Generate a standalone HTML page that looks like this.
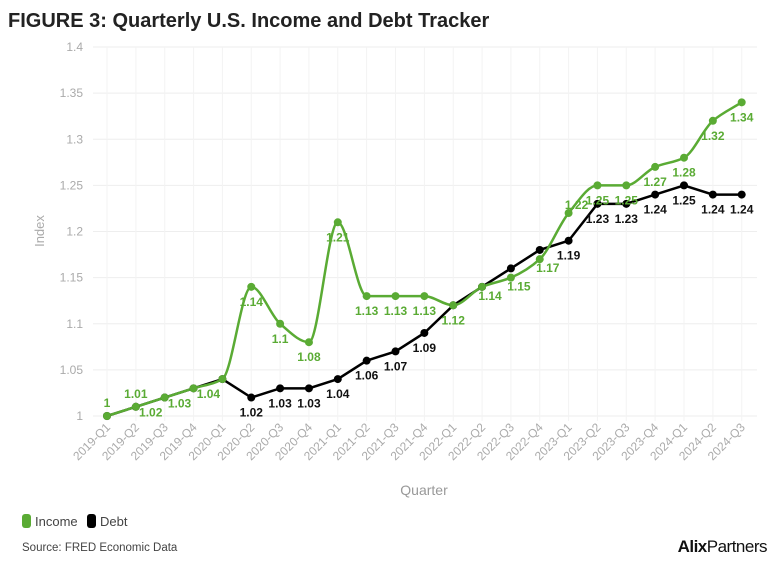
<!DOCTYPE html>
<html><head><meta charset="utf-8"><style>
body{margin:0;background:#fff;font-family:"Liberation Sans",sans-serif}
</style></head><body>
<svg width="784" height="571" xmlns="http://www.w3.org/2000/svg" id="s" font-family="Liberation Sans, sans-serif">
<text x="8" y="27" font-size="20" font-weight="bold" fill="#222">FIGURE 3: Quarterly U.S. Income and Debt Tracker</text>
<g id="grid"></g>
<text transform="translate(44,231) rotate(-90)" text-anchor="middle" font-size="13" fill="#aaa">Index</text>
<text x="424" y="495" text-anchor="middle" font-size="14" fill="#999">Quarter</text>
<rect x="22" y="514" width="9" height="14" rx="3" fill="#5aab34"/>
<text x="35" y="526" font-size="13" fill="#444">Income</text>
<rect x="87" y="514" width="9" height="14" rx="3" fill="#000"/>
<text x="100" y="526" font-size="13" fill="#444">Debt</text>
<text x="22" y="551" font-size="11.5" fill="#444">Source: FRED Economic Data</text>
<text x="767" y="552" text-anchor="end" font-size="17" fill="#111" letter-spacing="-0.5"><tspan font-weight="bold">Alix</tspan>Partners</text>
<g id="plot"></g>
</svg>
<script>
var NS="http://www.w3.org/2000/svg";
function el(p,t,a,txt){var e=document.createElementNS(NS,t);for(var k in a)e.setAttribute(k,a[k]);if(txt!=null)e.textContent=txt;p.appendChild(e);return e;}
var g=document.getElementById('grid'),p=document.getElementById('plot');
var X=i=>107+i*28.85, Y=v=>416-(v-1)*922.5;
var q=[];for(var y=2019;y<=2024;y++)for(var k=1;k<=4;k++)q.push(y+'-Q'+k);q=q.slice(0,23);
for(var i=0;i<=8;i++){var v=1+i*0.05,yy=Y(v);el(g,'line',{x1:93,x2:757,y1:yy,y2:yy,stroke:'#eee'});
el(g,'text',{x:83,y:yy+4,'text-anchor':'end','font-size':12,fill:'#aaa'},(+v.toFixed(2)).toString());}
q.forEach((s,i)=>{var x=X(i);el(g,'line',{x1:x,x2:x,y1:47,y2:421,stroke:'#f3f3f3'});
el(g,'text',{transform:'translate('+(x+4)+',428) rotate(-45)','text-anchor':'end','font-size':12,fill:'#aaa'},s);});
var inc=[1,1.01,1.02,1.03,1.04,1.14,1.1,1.08,1.21,1.13,1.13,1.13,1.12,1.14,1.15,1.17,1.22,1.25,1.25,1.27,1.28,1.32,1.34];
var deb=[1,1.01,1.02,1.03,1.04,1.02,1.03,1.03,1.04,1.06,1.07,1.09,1.12,1.14,1.16,1.18,1.19,1.23,1.23,1.24,1.25,1.24,1.24];
var d=deb.map((v,i)=>(i?'L':'M')+X(i)+','+Y(v)).join('');
el(p,'path',{d:d,fill:'none',stroke:'#000','stroke-width':2.5});
// monotone cubic
var pts=inc.map((v,i)=>[X(i),Y(v)]),n=pts.length,h=28.85,dl=[],m=[];
for(var i=0;i<n-1;i++)dl.push((pts[i+1][1]-pts[i][1])/h);
for(var i=0;i<n;i++){if(i==0)m.push(dl[0]);else if(i==n-1)m.push(dl[n-2]);else{var a=dl[i-1],b=dl[i];m.push(a*b<=0?0:2/(1/a+1/b));}}
var s='M'+pts[0];
for(var i=0;i<n-1;i++){var p1=pts[i],p2=pts[i+1];s+='C'+(p1[0]+h/3)+','+(p1[1]+m[i]*h/3)+' '+(p2[0]-h/3)+','+(p2[1]-m[i+1]*h/3)+' '+p2[0]+','+p2[1];}
el(p,'path',{d:s,fill:'none',stroke:'#5aab34','stroke-width':2.5});
deb.forEach((v,i)=>{el(p,'circle',{cx:X(i),cy:Y(v),r:4,fill:'#000'});
if(i>=5&&i!=12&&i!=13&&i!=14&&i!=15)el(p,'text',{x:X(i),y:Y(v)+19,'text-anchor':'middle','font-size':12,'font-weight':'bold',fill:'#111'},v.toString());});
inc.forEach((v,i)=>{el(p,'circle',{cx:X(i),cy:Y(v),r:4,fill:'#5aab34'});
var dy=(i==0||i==1)?-9:19, dx=(i>=2&&i<=4)?-14:0;
if(i>=13&&i<=16){dx=8;dy=i==16?-4:13;}
el(p,'text',{x:X(i)+dx,y:Y(v)+dy,'text-anchor':'middle','font-size':12,'font-weight':'bold',fill:'#5aab34'},v.toString());});
</script>
</body></html>
